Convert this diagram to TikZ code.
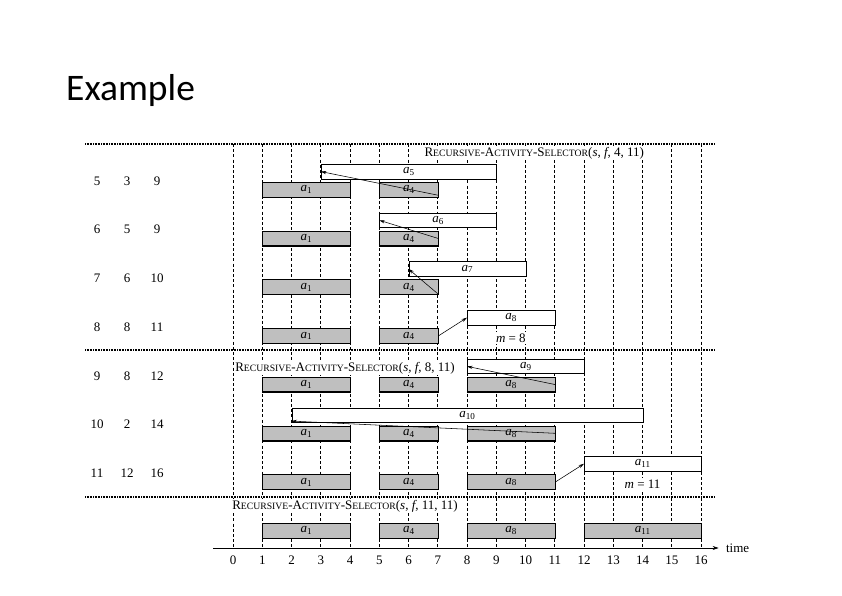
\documentclass[tikz,border=0pt]{standalone}
\usepackage{fontspec}
\setmainfont{Liberation Serif}
\newfontfamily\titlefont{Carlito}
\usetikzlibrary{arrows.meta,calc}
\newcommand\actlab[1]{\textit{a}\textsubscript{#1}}
\newcommand\fsc[2]{#1{\fontsize{9.7}{11}\selectfont #2}}
\newcommand\rasname{\fsc{R}{ECURSIVE}-\fsc{A}{CTIVITY}-\fsc{S}{ELECTOR}}
\newcommand\mkgray[5]{\node[gbox, minimum width={(#3-#2)*29.25pt}] (#1) at (#2,#4) {\actlab{#5}};
  \draw[line width=1.3pt] ([xshift=0.3pt,yshift=0.3pt]#1.south west) -- ([xshift=-0.3pt,yshift=0.3pt]#1.south east);}
\newcommand\mkwhite[5]{\node[wbox, minimum width={(#3-#2)*29.25pt}] (#1) at (#2,#4) {\actlab{#5}};}
\begin{document}
\begin{tikzpicture}[x=1pt,y=-1pt,
  sepline/.style={line width=1.8pt, dash pattern=on 1pt off 0.6pt},
  vdash/.style={line width=0.7pt, dash pattern=on 3pt off 2.2pt},
  gbox/.style={draw, line width=0.6pt, fill=black!25, minimum height=15pt, inner sep=0pt, anchor=north west, font=\fontsize{13}{12}\selectfont},
  wbox/.style={draw, line width=0.6pt, fill=white, minimum height=14.5pt, inner sep=0pt, anchor=north west, font=\fontsize{13}{12}\selectfont},
  arr/.style={-{Stealth[length=5.5pt,width=3.2pt]}, line width=0.55pt},
  txt/.style={font=\fontsize{13}{14}\selectfont, inner sep=0pt},
  wtxt/.style={txt, fill=white, inner sep=1.5pt},
]
\useasboundingbox (0,0) rectangle (842,595);
\node[anchor=base west, font=\titlefont\fontsize{37.5}{40}\selectfont, inner sep=0pt] (title) at (66,100) {Example};

% separators
\draw[sepline] (85,144) -- (715,144);
\draw[sepline] (85,350) -- (715,350);
\draw[sepline] (85,497) -- (715,497);

% row numbers
\foreach \a/\b/\c/\y [count=\i] in {5/3/9/181, 6/5/9/229.7, 7/6/10/278.4, 8/8/11/327.5, 9/8/12/376, 10/2/14/424.5, 11/12/16/473.2}{
  \node[txt] (na\i) at (97,\y) {\a};
  \node[txt] (nb\i) at (127,\y) {\b};
  \node[txt] (nc\i) at (157,\y) {\c};
}

\begin{scope}[xshift=233pt, x=29.25pt]
  % dashed verticals
  \foreach \t in {0,...,16}{
    \coordinate (vt\t) at (\t,144);
    \coordinate (vb\t) at (\t,548);
    \draw[vdash] (vt\t) -- (vb\t);
  }
  % axis
  \coordinate (axl) at (-0.68,548);
  \coordinate (axr) at (16.6,548);
  \draw[-{Stealth[length=6pt,width=4pt]}, line width=0.6pt] (axl) -- (axr);
  \node[txt, anchor=west] (timelab) at (16.85,548) {time};
  \foreach \t in {0,...,16}{
    \node[txt] (tick\t) at (\t,560) {\t};
  }

  % call labels
  \node[wtxt] (call1) at (10.3,153) {\rasname(\textit{s}, \textit{f}, 4, 11)};
  \node[wtxt] (call2) at (3.83,368) {\rasname(\textit{s}, \textit{f}, 8, 11)};
  \node[wtxt] (call3) at (3.83,506) {\rasname(\textit{s}, \textit{f}, 11, 11)};

  % row 1
  \mkgray{r1a1}{1}{4}{182}{1}
  \mkgray{r1a4}{5}{7}{182}{4}
  \mkwhite{r1a5}{3}{9}{164}{5}
  % row 2
  \mkgray{r2a1}{1}{4}{230.7}{1}
  \mkgray{r2a4}{5}{7}{230.7}{4}
  \mkwhite{r2a6}{5}{9}{212.7}{6}
  % row 3
  \mkgray{r3a1}{1}{4}{279.4}{1}
  \mkgray{r3a4}{5}{7}{279.4}{4}
  \mkwhite{r3a7}{6}{10}{261.4}{7}
  % row 4
  \mkgray{r4a1}{1}{4}{328.1}{1}
  \mkgray{r4a4}{5}{7}{328.1}{4}
  \mkwhite{r4a8}{8}{11}{310.1}{8}
  \node[wtxt] (m8) at (9.5,338) {\textit{m} = 8};
  % row 5
  \mkgray{r5a1}{1}{4}{376.8}{1}
  \mkgray{r5a4}{5}{7}{376.8}{4}
  \mkgray{r5a8}{8}{11}{376.8}{8}
  \mkwhite{r5a9}{8}{12}{358.8}{9}
  % row 6
  \mkgray{r6a1}{1}{4}{425.5}{1}
  \mkgray{r6a4}{5}{7}{425.5}{4}
  \mkgray{r6a8}{8}{11}{425.5}{8}
  \mkwhite{r6a10}{2}{14}{407.5}{10}
  % row 7
  \mkgray{r7a1}{1}{4}{474.2}{1}
  \mkgray{r7a4}{5}{7}{474.2}{4}
  \mkgray{r7a8}{8}{11}{474.2}{8}
  \mkwhite{r7a11}{12}{16}{456.2}{11}
  \node[wtxt] (m11) at (14,484) {\textit{m} = 11};
  % row 8
  \mkgray{r8a1}{1}{4}{522.9}{1}
  \mkgray{r8a4}{5}{7}{522.9}{4}
  \mkgray{r8a8}{8}{11}{522.9}{8}
  \mkgray{r8a11}{12}{16}{522.9}{11}
\end{scope}

% arrows
\draw[arr] ($(r1a4.south east)!0.15!(r1a4.north east)$) -- (r1a5.west);
\draw[arr] (r2a4.east) -- (r2a6.west);
\draw[arr] ($(r3a4.south east)!0.05!(r3a4.north east)$) -- (r3a7.west);
\draw[arr] (r4a4.east) -- (r4a8.west);
\draw[arr] (r5a8.east) -- (r5a9.west);
\draw[arr] (r6a8.east) -- ($(r6a10.south west)!0.1!(r6a10.north west)$);
\draw[arr] (r7a8.east) -- (r7a11.west);
\end{tikzpicture}
\end{document}
